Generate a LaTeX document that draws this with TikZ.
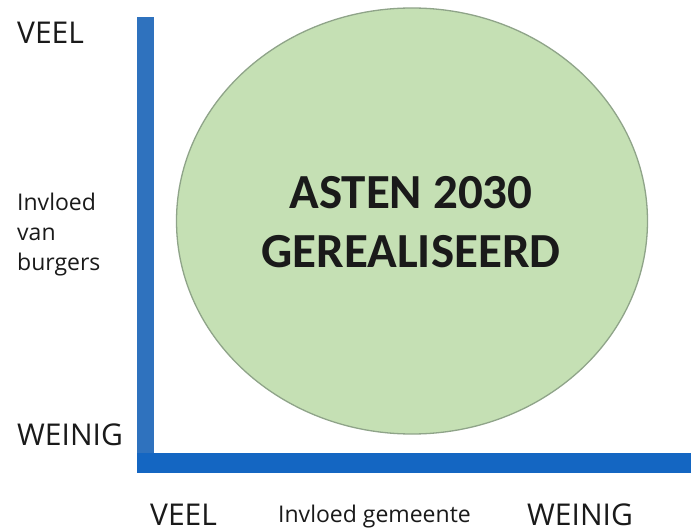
\documentclass[tikz,border=0pt]{standalone}
\usepackage{fontspec}
\usetikzlibrary{shapes.geometric}
\setmainfont{Open Sans}
\newfontfamily\calib{Carlito}
\definecolor{vblue}{HTML}{2F72BE}
\definecolor{hblue}{HTML}{1466C2}
\definecolor{circfill}{HTML}{C5E0B4}
\definecolor{circline}{HTML}{8FA489}
\definecolor{txt}{HTML}{1A1A1A}
\begin{document}
\begin{tikzpicture}[x=1pt,y=-1pt,
  lbl/.style={inner sep=0pt,text=txt,font=\fontsize{30}{34}\selectfont},
  small/.style={inner sep=0pt,text=txt,font=\fontsize{23}{30}\selectfont,align=left},
  bar/.style={draw=none}]
\useasboundingbox (0,0) rectangle (691,532);
\fill[white] (0,0) rectangle (691,532);
\node[ellipse,draw=circline,line width=1.3pt,fill=circfill,minimum width=471pt,minimum height=426pt,inner sep=0pt] (circ) at (412,221) {};
\node[inner sep=0pt,text=txt,align=center,font=\calib\bfseries\fontsize{49}{59}\selectfont] (title) at (411,222) {ASTEN 2030\\GEREALISEERD};
\path[bar,fill=vblue] (137,17) rectangle (154,465);
\path[bar,fill=hblue] (137,453) rectangle (691,473);
\node[lbl,anchor=west] (veeltop) at (17,33) {VEEL};
\node[lbl,anchor=west] (weinigl) at (17,435) {WEINIG};
\node[small,anchor=west] (burg) at (17,235) {Invloed\\van\\burgers};
\node[lbl,anchor=west] (veelbot) at (150,515) {VEEL};
\node[small,anchor=west] (gem) at (278,517) {Invloed gemeente};
\node[lbl,anchor=west] (weinigr) at (527,515) {WEINIG};
\end{tikzpicture}
\end{document}
